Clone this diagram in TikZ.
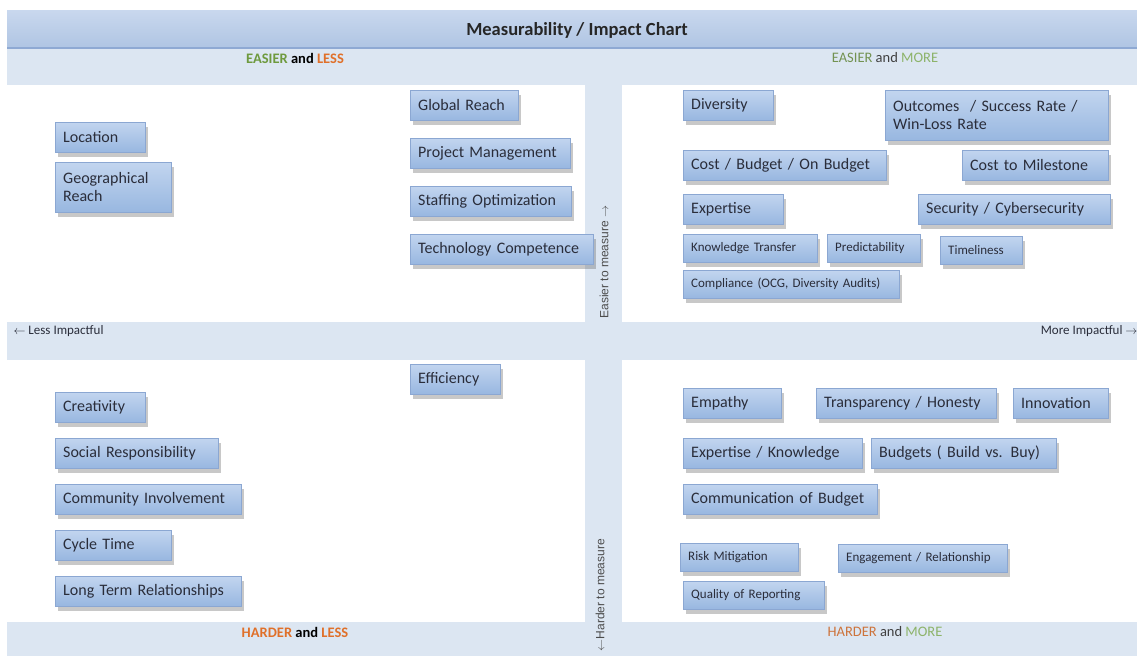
\documentclass[tikz,border=0pt]{standalone}
\usepackage{fontspec}
\setmainfont{Carlito}
\newfontfamily\axisfont{Liberation Sans}
\usetikzlibrary{shadows}
\definecolor{bandlight}{HTML}{DCE6F2}
\definecolor{bartop}{HTML}{C9D8EE}
\definecolor{barbot}{HTML}{AFC5E3}
\definecolor{barline}{HTML}{8EA9D3}
\definecolor{boxtop}{HTML}{C2D5EF}
\definecolor{boxbot}{HTML}{98B7E0}
\definecolor{boxline}{HTML}{8BA7D2}
\definecolor{boxtext}{HTML}{2A2D3A}
\definecolor{easygreen}{HTML}{6E9A3E}
\definecolor{lessorange}{HTML}{E0702A}
\definecolor{moregreen}{HTML}{8DB36A}
\tikzset{
  item/.style={draw=boxline, top color=boxtop, bottom color=boxbot, anchor=north west,
    align=left, inner xsep=8pt, inner ysep=0pt, minimum height=30pt, text=boxtext,
    font=\fontsize{16}{18}\selectfont,
    drop shadow={shadow xshift=3pt, shadow yshift=-5pt, opacity=0.3, fill=black!70}},
  small/.style={item, minimum height=28pt, font=\fontsize{13}{15}\selectfont},
  quad/.style={font=\fontsize{14.5}{16}\selectfont},
  axis/.style={font=\fontsize{13}{15}\selectfont, text=boxtext},
  vaxis/.style={rotate=90, font=\axisfont\fontsize{12}{14}\selectfont, text=black!70},
}
\begin{document}
\begin{tikzpicture}[x=1pt,y=-1pt]
\useasboundingbox (0,0) rectangle (1137,656);
\fill[white] (0,0) rectangle (1137,656);
\fill[bandlight] (7,48) rectangle (1137,656);
\fill[top color=bartop, bottom color=barbot] (7,10) rectangle (1137,48);
\draw[barline, line width=1.2pt] (7,48) -- (1137,48);
\fill[white] (7,85) rectangle (585,322);
\fill[white] (622,85) rectangle (1137,322);
\fill[white] (7,360) rectangle (585,622);
\fill[white] (622,360) rectangle (1137,622);

\node[font=\fontsize{18.5}{21}\selectfont\bfseries, text=black!85] (title) at (577,30) {Measurability / Impact Chart};
\node[quad] (el) at (295,58) {\textbf{\textcolor{easygreen}{EASIER} and \textcolor{lessorange}{LESS}}};
\node[quad] (em) at (885,58) {\textcolor{easygreen!70!gray}{EASIER} \textcolor{black!75}{and} \textcolor{moregreen}{MORE}};
\node[quad] (hl) at (295,632) {\textbf{\textcolor{lessorange}{HARDER} and \textcolor{lessorange}{LESS}}};
\node[quad] (hm) at (885,632) {\textcolor{lessorange!80!gray}{HARDER} \textcolor{black!75}{and} \textcolor{moregreen}{MORE}};
\node[axis, anchor=west] (li) at (10,331) {$\leftarrow$ Less Impactful};
\node[axis, anchor=east] (mi) at (1141,331) {More Impactful $\rightarrow$};
\node[vaxis] (em2) at (604,262) {Easier to measure $\rightarrow$};
\node[vaxis] (hm2) at (600,595) {$\leftarrow$Harder to measure};

\node[item, text width=74] (loc) at (55,122) {Location};
\node[item, text width=100, minimum height=50] (geo) at (55,162) {Geographical\\Reach};
\node[item, text width=92] (glob) at (410,90) {Global Reach};
\node[item, text width=144] (pm) at (410,138) {Project Management};
\node[item, text width=145] (staff) at (410,186) {Staffing Optimization};
\node[item, text width=167] (tech) at (410,234) {Technology Competence};

\node[item, text width=74] (div) at (683,90) {Diversity};
\node[item, text width=207, minimum height=50] (out) at (885,90) {Outcomes~ / Success Rate /\\Win-Loss Rate};
\node[item, text width=187] (cost) at (683,150) {Cost / Budget / On Budget};
\node[item, text width=130] (mile) at (962,150) {Cost to Milestone};
\node[item, text width=176] (sec) at (918,194) {Security / Cybersecurity};
\node[item, text width=84] (exp) at (683,194) {Expertise};
\node[small, text width=118] (kt) at (683,234) {Knowledge Transfer};
\node[small, text width=77] (pred) at (827,234) {Predictability};
\node[small, text width=66] (time) at (940,236) {Timeliness};
\node[small, text width=200] (comp) at (683,270) {Compliance (OCG, Diversity Audits)};

\node[item, text width=74] (eff) at (410,364) {Efficiency};
\node[item, text width=74] (crea) at (55,392) {Creativity};
\node[item, text width=147] (soc) at (55,438) {Social Responsibility};
\node[item, text width=170] (comm) at (55,484) {Community Involvement};
\node[item, text width=100] (cyc) at (55,530) {Cycle Time};
\node[item, text width=170] (ltr) at (55,576) {Long Term Relationships};

\node[item, text width=82] (emp) at (683,388) {Empathy};
\node[item, text width=164] (trans) at (816,388) {Transparency / Honesty};
\node[item, text width=79] (inno) at (1013,388) {Innovation};
\node[item, text width=163] (ek) at (683,438) {Expertise / Knowledge};
\node[item, text width=169] (bud) at (871,438) {Budgets ( Build vs. Buy)};
\node[item, text width=178] (cob) at (683,484) {Communication of Budget};
\node[small, text width=102] (risk) at (680,543) {Risk Mitigation};
\node[small, text width=153] (eng) at (838,544) {Engagement / Relationship};
\node[small, text width=125] (qor) at (683,581) {Quality of Reporting};
\end{tikzpicture}
\end{document}
